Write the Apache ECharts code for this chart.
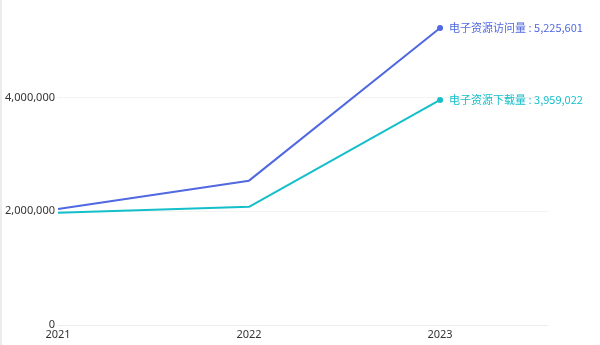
<!DOCTYPE html>
<html><head><meta charset="utf-8">
<script src="https://cdn.jsdelivr.net/npm/echarts@6/dist/echarts.min.js"></script>
<style>html,body{margin:0;padding:0;background:#fff}
#wrap{position:relative;width:600px;height:345px;overflow:hidden;background:#fff}
#edge{position:absolute;left:0;top:0;width:2px;height:345px;background:#ececec;z-index:2}
#c{position:absolute;left:0;top:-16px;width:600px;height:361px}</style>
</head><body><div id="wrap"><div id="edge"></div><div id="c"></div></div>
<script>
const years = [2021, 2022, 2023];
const visits = [2040000, 2540000, 5225601];
const downloads = [1975000, 2080000, 3959022];
const seriesNames = ['电子资源访问量', '电子资源下载量'];
const yTicks = [0, 2000000, 4000000];

const chart = echarts.init(document.getElementById('c'));
const fmt = v => v.toLocaleString('en-US');
function mk(name, vals, color) {
  const last = vals.length - 1;
  return {
    name: name, type: 'line', data: years.map((y, i) => [y, vals[i]]),
    symbol: 'circle', showSymbol: true,
    symbolSize: (v, p) => p.dataIndex === last ? 6 : 0,
    lineStyle: { color: color, width: 2 }, itemStyle: { color: color },
    label: { show: true, position: 'right', distance: 6, color: color, fontSize: 11,
      fontFamily: 'Noto Sans CJK SC',
      formatter: p => p.dataIndex === last ? name + ' : ' + fmt(p.value[1]) : '' },
    emphasis: { disabled: true }
  };
}
chart.setOption({
  animation: false,
  grid: { left: 58, right: 52, top: 0, bottom: 20, containLabel: false },
  xAxis: { type: 'value', min: 2021, max: 2023.565, interval: 1,
    axisLine: { show: true, lineStyle: { color: '#ececec' } }, axisTick: { show: false },
    splitLine: { show: false },
    axisLabel: { color: '#333', fontSize: 11, margin: 4, fontFamily: 'Noto Sans',
      formatter: v => Number.isInteger(v) && years.includes(v) ? String(v) : '' } },
  yAxis: { type: 'value', min: 0, max: 6000000, interval: 2000000,
    axisLine: { show: false }, axisTick: { show: false },
    splitLine: { lineStyle: { color: '#f3f3f3' } },
    axisLabel: { color: '#333', fontSize: 11, margin: 3, fontFamily: 'Noto Sans',
      formatter: v => yTicks.includes(v) ? fmt(v) : '' } },
  series: [mk(seriesNames[0], visits, '#5068e0'), mk(seriesNames[1], downloads, '#14bfca')]
});
</script></body></html>
